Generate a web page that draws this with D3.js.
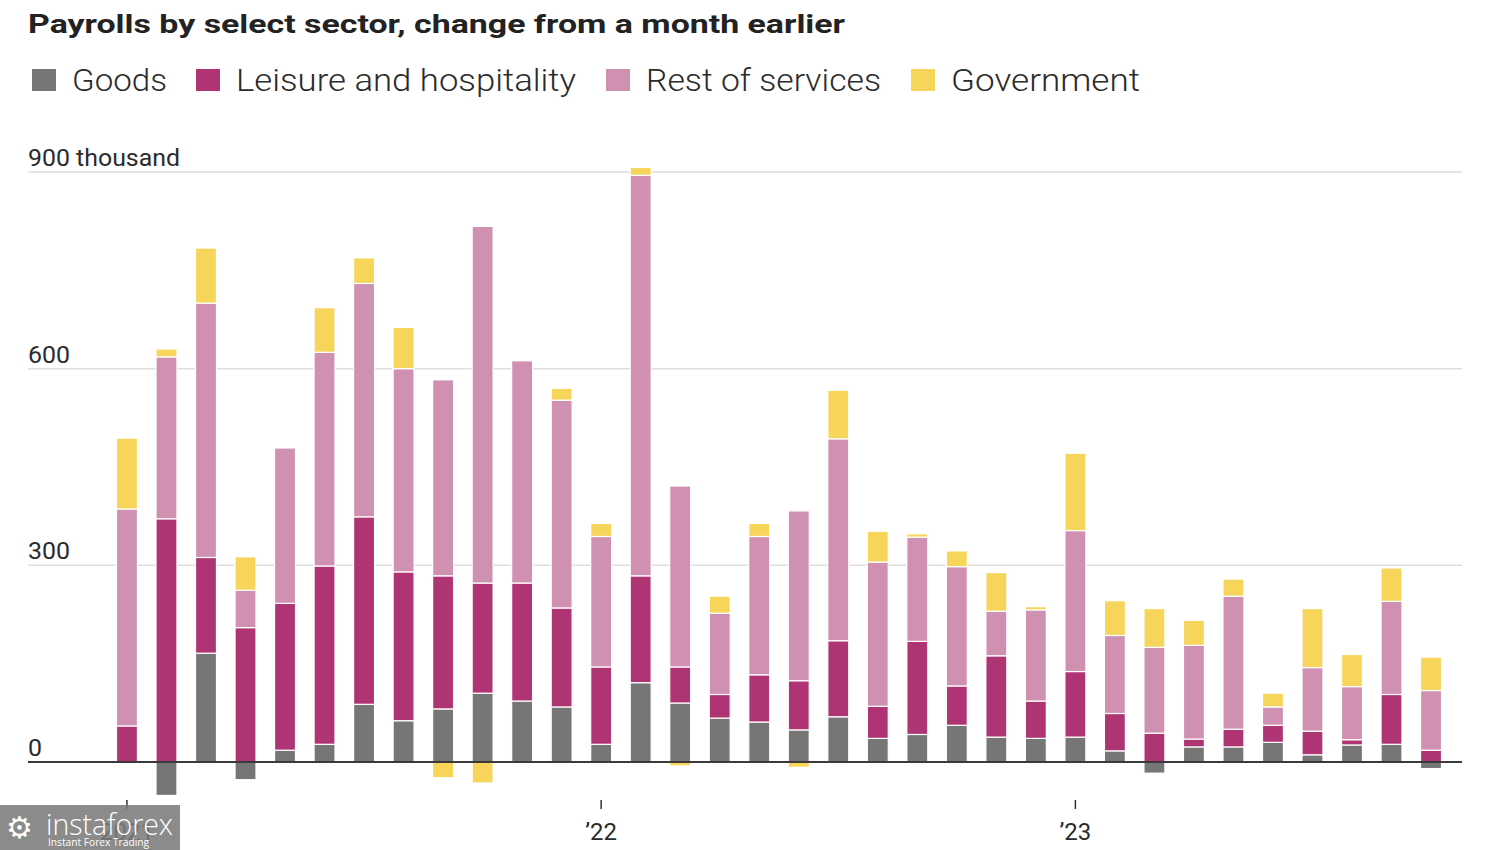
<!DOCTYPE html>
<html>
<head>
<meta charset="utf-8">
<script src="https://cdn.jsdelivr.net/npm/d3@7"></script>
<style>
  html, body { margin: 0; padding: 0; background: #fff; }
  svg { display: block; }
</style>
</head>
<body>
<svg id="chart" width="1500" height="850"></svg>
<script>
// ---- Data (thousands of jobs, monthly change) ----
const months = [
  "2021-01","2021-02","2021-03","2021-04","2021-05","2021-06","2021-07","2021-08","2021-09","2021-10","2021-11","2021-12",
  "2022-01","2022-02","2022-03","2022-04","2022-05","2022-06","2022-07","2022-08","2022-09","2022-10","2022-11","2022-12",
  "2023-01","2023-02","2023-03","2023-04","2023-05","2023-06","2023-07","2023-08","2023-09","2023-10"
];
const goods =      [0, -51, 166, -27, 18, 27, 88, 63, 81, 105, 93, 84, 27, 121, 90, 67, 61, 49, 69, 36, 42, 56, 38, 36, 38, 17, -17, 23, 23, 30, 11, 26, 27, -10];
const leisure =    [55, 371, 146, 205, 224, 272, 286, 227, 203, 168, 180, 151, 118, 163, 55, 36, 72, 75, 116, 49, 142, 60, 124, 57, 100, 57, 44, 12, 27, 26, 36, 8, 76, 18];
const restServices=[331, 247, 388, 57, 237, 326, 356, 310, 299, 544, 339, 317, 199, 611, 276, 124, 211, 259, 308, 220, 159, 182, 68, 139, 215, 119, 131, 143, 203, 28, 97, 81, 142, 91];
const government = [108, 12, 84, 51, 0, 68, 39, 63, -24, -32, 0, 18, 20, 12, -6, 26, 20, -8, 74, 47, 5, 24, 59, 5, 118, 53, 59, 38, 26, 21, 90, 49, 51, 51];

const seriesKeys = ["goods", "leisure", "rest", "gov"];
const seriesNames = ["Goods", "Leisure and hospitality", "Rest of services", "Government"];
const seriesColors = ["#767676", "#ae3473", "#cf90b1", "#f6d55a"];
const yTicks = [0, 300, 600, 900];
const yTickLabels = ["0", "300", "600", "900 thousand"];
const xTickMonths = ["2021-01", "2022-01", "2023-01"];
const xTickLabels = ["2021", "\u201922", "\u201923"];

const rows = months.map((m, i) => ({
  month: m, goods: goods[i], leisure: leisure[i], rest: restServices[i], gov: government[i]
}));

const svg = d3.select("#chart");
const textColor = "#2b2b2b";
const fontFam = "Roboto, 'Noto Sans', sans-serif";

// ---- Title ----
svg.append("text")
  .attr("x", 28).attr("y", 33)
  .attr("font-family", fontFam)
  .attr("font-weight", 700)
  .attr("font-size", 26)
  .attr("fill", "#222")
  .attr("textLength", 817)
  .attr("lengthAdjust", "spacingAndGlyphs")
  .text("Payrolls by select sector, change from a month earlier");

// ---- Legend ----
const legendSwatchX = [32, 196, 606, 911];
const legendTextWidths = [95, 340, 235, 189];
const legend = svg.append("g");
seriesNames.forEach((name, i) => {
  legend.append("rect")
    .attr("x", legendSwatchX[i]).attr("y", 69)
    .attr("width", 24).attr("height", 22)
    .attr("fill", seriesColors[i]);
  legend.append("text")
    .attr("x", legendSwatchX[i] + 40).attr("y", 91)
    .attr("font-family", fontFam)
    .attr("font-weight", 300)
    .attr("font-size", 31)
    .attr("fill", textColor)
    .attr("textLength", legendTextWidths[i])
    .attr("lengthAdjust", "spacingAndGlyphs")
    .text(name);
});

// ---- Scales ----
const x = d3.scaleBand()
  .domain(months)
  .range([107.2, 1450.8])
  .paddingInner(0.47)
  .paddingOuter(0.235);

const y = d3.scaleLinear()
  .domain([0, 900])
  .range([762, 172]);

const plotLeft = 28, plotRight = 1462;

// ---- Gridlines ----
const grid = svg.append("g");
yTicks.forEach((t, i) => {
  if (t !== 0) {
    grid.append("line")
      .attr("x1", plotLeft).attr("x2", plotRight)
      .attr("y1", y(t)).attr("y2", y(t))
      .attr("stroke", "#dedede").attr("stroke-width", 1.5);
  }
  grid.append("text")
    .attr("x", plotLeft).attr("y", y(t) - 6)
    .attr("font-family", fontFam)
    .attr("font-weight", 400)
    .attr("font-size", 24)
    .attr("fill", textColor)
    .attr("textLength", t === 900 ? 152 : (t === 0 ? 14 : 42))
    .attr("lengthAdjust", "spacingAndGlyphs")
    .text(yTickLabels[i]);
});

// ---- Stacked bars ----
const stack = d3.stack()
  .keys(seriesKeys)
  .offset(d3.stackOffsetDiverging);
const stacked = stack(rows);

const barsG = svg.append("g");
stacked.forEach((layer, li) => {
  barsG.append("g")
    .attr("fill", seriesColors[li])
    .selectAll("rect")
    .data(layer.filter(d => d[1] - d[0] !== 0))
    .join("rect")
    .attr("x", d => x(d.data.month))
    .attr("width", x.bandwidth())
    .attr("y", d => y(Math.max(d[0], d[1])))
    .attr("height", d => Math.abs(y(d[0]) - y(d[1])))
    .attr("stroke", "#fff")
    .attr("stroke-width", 1.2);
});

// ---- Zero line ----
svg.append("line")
  .attr("x1", plotLeft).attr("x2", plotRight)
  .attr("y1", y(0)).attr("y2", y(0))
  .attr("stroke", "#3a3a3a").attr("stroke-width", 2);

// ---- X axis ticks ----
const xAxis = svg.append("g");
xTickMonths.forEach((m, i) => {
  const cx = x(m) + x.bandwidth() / 2;
  xAxis.append("line")
    .attr("x1", cx).attr("x2", cx)
    .attr("y1", 800).attr("y2", 809)
    .attr("stroke", "#333").attr("stroke-width", 1.5);
  xAxis.append("text")
    .attr("x", cx).attr("y", 840)
    .attr("text-anchor", "middle")
    .attr("font-family", fontFam)
    .attr("font-size", 24)
    .attr("fill", textColor)
    .text(xTickLabels[i]);
});

// ---- Watermark overlay (semi-transparent, as in the source image) ----
const wm = svg.append("g");
wm.append("rect")
  .attr("x", 0).attr("y", 805).attr("width", 180).attr("height", 45)
  .attr("fill", "#7b7b7b").attr("opacity", 0.88);
wm.append("text")
  .attr("x", 6).attr("y", 838)
  .attr("font-family", "'DejaVu Sans', sans-serif")
  .attr("font-size", 30)
  .attr("fill", "#fff")
  .text("\u2699");
wm.append("text")
  .attr("x", 46).attr("y", 835)
  .attr("font-family", "'Open Sans', sans-serif")
  .attr("font-size", 29)
  .attr("font-weight", 300)
  .attr("fill", "#fff")
  .attr("textLength", 127)
  .attr("lengthAdjust", "spacingAndGlyphs")
  .text("instaforex");
wm.append("text")
  .attr("x", 48).attr("y", 846)
  .attr("font-family", "'Open Sans', sans-serif")
  .attr("font-size", 10.5)
  .attr("fill", "#fff")
  .attr("textLength", 101)
  .attr("lengthAdjust", "spacingAndGlyphs")
  .text("Instant Forex Trading");
</script>
</body>
</html>
